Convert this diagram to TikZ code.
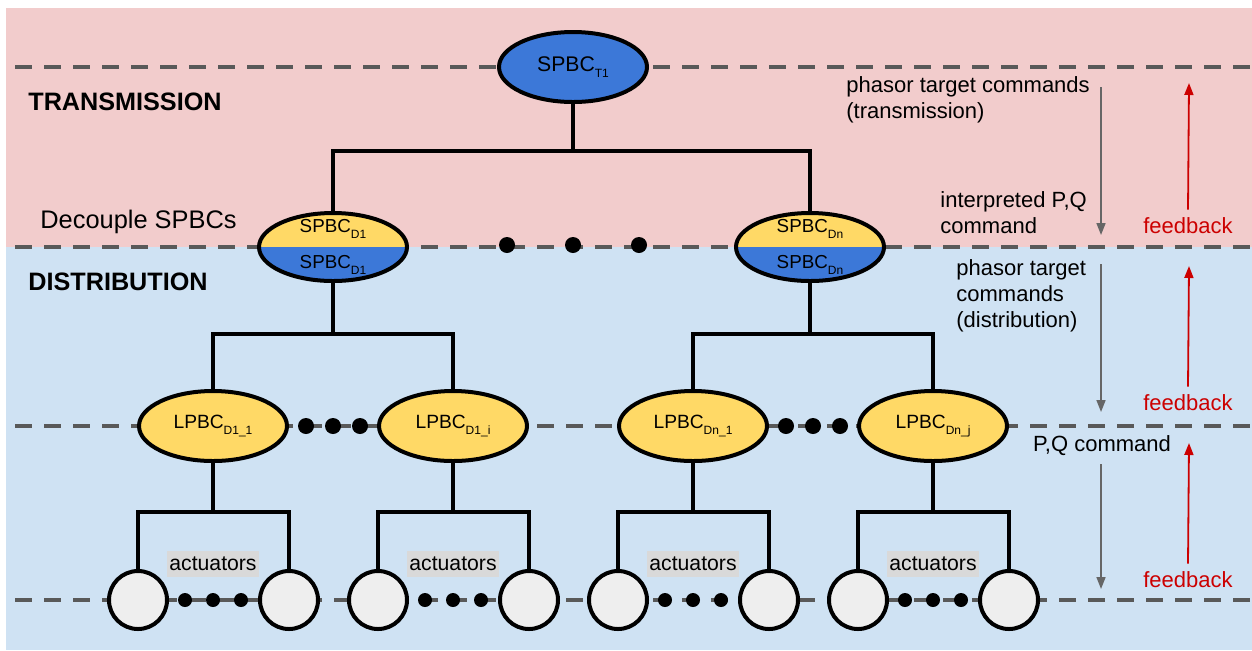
\documentclass[tikz,border=0pt]{standalone}
\usepackage{fontspec}
\setmainfont{Liberation Sans}
\usetikzlibrary{
    shapes.geometric,
    arrows.meta,
    backgrounds,
    positioning,
    calc
}
\definecolor{BandPink}{HTML}{F2CCCC}
\definecolor{BandBlue}{HTML}{CFE2F3}
\definecolor{CtrlYellow}{HTML}{FFD966}
\definecolor{CtrlBlue}{HTML}{3C78D8}
\definecolor{ActGray}{HTML}{EEEEEE}
\definecolor{TagGray}{HTML}{D9D9D9}
\definecolor{LevelGray}{HTML}{595959}
\definecolor{CmdGray}{HTML}{666666}
\definecolor{FbRed}{HTML}{CC0000}
\newcommand{\lowsub}[1]{\raisebox{-0.55ex}{\fontsize{6pt}{6.5pt}\selectfont #1}}
\tikzset{
    ctrl/.style={
        ellipse,
        draw,
        line width=2pt,
        minimum width=74pt,
        minimum height=35pt,
        inner sep=0pt,
        font=\fontsize{10.6pt}{12pt}\selectfont,
    },
    spbc/.style={
        ctrl,
        fill=CtrlBlue,
    },
    splitspbc/.style={
        ctrl,
        fill=CtrlBlue,
        minimum height=34pt,
        path picture={\fill[CtrlYellow] (path picture bounding box.north west) rectangle (path picture bounding box.east);},
    },
    lpbc/.style={
        ctrl,
        fill=CtrlYellow,
        font=\fontsize{9.6pt}{11pt}\selectfont,
    },
    actuator/.style={
        circle,
        draw,
        line width=2pt,
        fill=ActGray,
        minimum size=29pt,
        inner sep=0pt,
    },
    dot/.style={
        circle,
        fill=black,
        inner sep=0pt,
        minimum size=8pt,
    },
    smalldot/.style={
        dot,
        minimum size=7pt,
    },
}

\begin{document}
\begin{tikzpicture}[x=0.5pt,y=-0.5pt]

    \tikzset{
        tree/.style={line width=2pt},
        level/.style={line width=2pt,draw=LevelGray,dash pattern=on 8.5pt off 6pt},
        cmd/.style={draw=CmdGray,line width=0.8pt,-{Triangle[length=6pt,width=4.5pt]}},
        fb/.style={cmd,draw=FbRed,line width=0.9pt},
        note/.style={font=\fontsize{11pt}{13pt}\selectfont,align=left,inner sep=0pt},
        fbnote/.style={note,text=FbRed},
        band/.style={font=\bfseries\fontsize{12.6pt}{14pt}\selectfont,inner sep=0pt},
        tag/.style={fill=TagGray,inner xsep=1pt,inner ysep=0pt,minimum height=13pt,font=\fontsize{10.6pt}{12pt}\selectfont},
        halflabel/.style={font=\fontsize{9.4pt}{11pt}\selectfont},
    }

    \useasboundingbox (0,0) rectangle (1252,650);

    % controllers
    \node[spbc] (spbcT1) at (573,67) {SPBC\lowsub{T1}};

    \node[splitspbc] (spbcD1) at (333,247) {};
    \node[splitspbc] (spbcDn) at (810,247) {};
    \node[halflabel] at ([yshift=9pt]spbcD1.center) {SPBC\lowsub{D1}};
    \node[halflabel] at ([yshift=-9pt]spbcD1.center) {SPBC\lowsub{D1}};
    \node[halflabel] at ([yshift=9pt]spbcDn.center) {SPBC\lowsub{Dn}};
    \node[halflabel] at ([yshift=-9pt]spbcDn.center) {SPBC\lowsub{Dn}};

    \node[lpbc] (lpbcD11) at (213,426) {LPBC\lowsub{D1\_1}};
    \node[lpbc] (lpbcD1i) at (453,426) {LPBC\lowsub{D1\_i}};
    \node[lpbc] (lpbcDn1) at (693,426) {LPBC\lowsub{Dn\_1}};
    \node[lpbc] (lpbcDnj) at (933,426) {LPBC\lowsub{Dn\_j}};

    % actuators
    \node[actuator] (actA1) at (138,600) {};
    \node[actuator] (actA2) at (289,600) {};
    \node[actuator] (actB1) at (378,600) {};
    \node[actuator] (actB2) at (529,600) {};
    \node[actuator] (actC1) at (618,600) {};
    \node[actuator] (actC2) at (769,600) {};
    \node[actuator] (actD1) at (858,600) {};
    \node[actuator] (actD2) at (1009,600) {};

    \node[tag] (tagA) at (213,564) {actuators};
    \node[tag] (tagB) at (453,564) {actuators};
    \node[tag] (tagC) at (693,564) {actuators};
    \node[tag] (tagD) at (933,564) {actuators};

    % ellipsis dots
    \node[dot] (dotS1) at (507,245) {};
    \node[dot] (dotS2) at (573,245) {};
    \node[dot] (dotS3) at (639,245) {};
    \node[dot] (dotL1) at (306,426) {};
    \node[dot] (dotL2) at (333,426) {};
    \node[dot] (dotL3) at (360,426) {};
    \node[dot] (dotL4) at (786,426) {};
    \node[dot] (dotL5) at (813,426) {};
    \node[dot] (dotL6) at (840,426) {};
    \foreach \x in {185,213,241,425,453,481,665,693,721,905,933,961}
        \node[smalldot] at (\x,600) {};

    % level labels
    \node[band,anchor=west] (trans) at (28,102) {TRANSMISSION};
    \node[band,anchor=west] (distr) at (28,282) {DISTRIBUTION};
    \node[note,anchor=west,font=\fontsize{12.7pt}{14pt}\selectfont] (decouple) at (40,222) {Decouple SPBCs};

    % commands and feedback
    \node[note,anchor=west] (cmdT) at (846,100) {phasor target commands\\(transmission)};
    \node[note,anchor=west] (cmdPQi) at (940,213) {interpreted P,Q\\command};
    \node[note,anchor=west] (cmdD) at (956,296) {phasor target\\commands\\(distribution)};
    \node[note] (cmdPQ) at (1102,446) {P,Q command};
    \node[fbnote] (fbT) at (1188,226) {feedback};
    \node[fbnote] (fbD) at (1188,403) {feedback};
    \node[fbnote] (fbA) at (1188,580) {feedback};

    \coordinate (cmdTtop) at (1101,87);
    \coordinate (cmdTbot) at (1101,235);
    \coordinate (cmdDtop) at (1101,264);
    \coordinate (cmdDbot) at (1101,412);
    \coordinate (cmdAtop) at (1101,464);
    \coordinate (cmdAbot) at (1101,589);
    \coordinate (fbTtop) at (1189,83);
    \coordinate (fbDtop) at (1189,266);
    \coordinate (fbAtop) at (1189,443);

    \draw[cmd] (cmdTtop) -- (cmdTbot);
    \draw[cmd] (cmdDtop) -- (cmdDbot);
    \draw[cmd] (cmdAtop) -- (cmdAbot);
    \draw[fb] (fbT.north) ++(0,-8) coordinate (fbTbot) -- (fbTtop);
    \draw[fb] (fbD.north) ++(0,-8) coordinate (fbDbot) -- (fbDtop);
    \draw[fb] (fbA.north) ++(0,-8) coordinate (fbAbot) -- (fbAtop);

    % forks of the tree
    \coordinate (forkT) at (573,151);
    \coordinate (forkD1) at (333,334);
    \coordinate (forkDn) at (810,334);
    \coordinate (forkA) at (213,512);
    \coordinate (forkB) at (453,512);
    \coordinate (forkC) at (693,512);
    \coordinate (forkD) at (933,512);

    \begin{scope}[on background layer]
        \fill[BandPink] (6,8) rectangle (1252,247);
        \fill[BandBlue] (6,247) rectangle (1252,650);

        \draw[level] (15,67) -- (1252,67);
        \draw[level] (15,247) -- (1252,247);
        \draw[level] (15,426) -- (1252,426);
        \draw[level] (15,600) -- (1252,600);

        \draw[tree] (spbcT1) -- (forkT) -| (spbcD1);
        \draw[tree] (forkT) -| (spbcDn);

        \draw[tree] (spbcD1) -- (forkD1) -| (lpbcD11);
        \draw[tree] (forkD1) -| (lpbcD1i);
        \draw[tree] (spbcDn) -- (forkDn) -| (lpbcDn1);
        \draw[tree] (forkDn) -| (lpbcDnj);

        \draw[tree] (lpbcD11) -- (forkA) -| (actA1);
        \draw[tree] (forkA) -| (actA2);
        \draw[tree] (lpbcD1i) -- (forkB) -| (actB1);
        \draw[tree] (forkB) -| (actB2);
        \draw[tree] (lpbcDn1) -- (forkC) -| (actC1);
        \draw[tree] (forkC) -| (actC2);
        \draw[tree] (lpbcDnj) -- (forkD) -| (actD1);
        \draw[tree] (forkD) -| (actD2);
    \end{scope}
\end{tikzpicture}
\end{document}
